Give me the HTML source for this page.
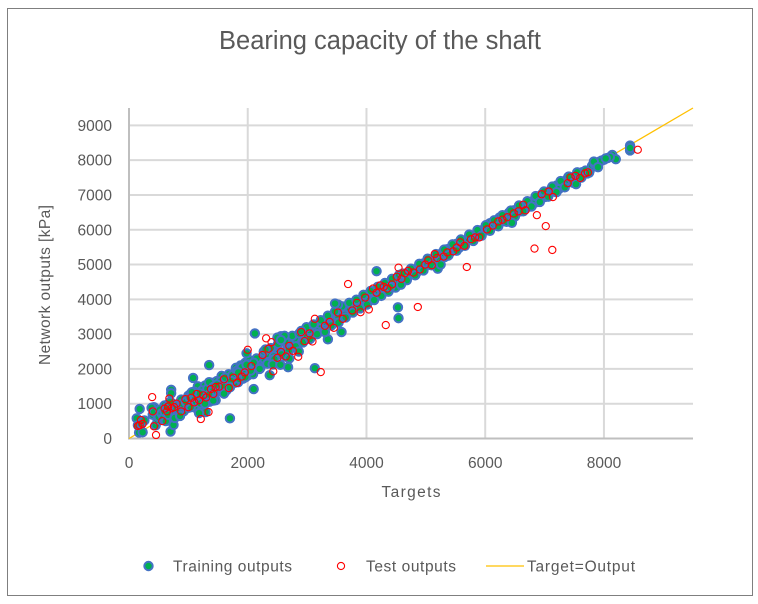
<!DOCTYPE html>
<html>
<head>
<meta charset="utf-8">
<title>Bearing capacity of the shaft</title>
<style>
html,body{margin:0;padding:0;background:#fff;width:758px;height:604px;overflow:hidden}
svg{display:block}
text{font-family:"Liberation Sans",sans-serif;fill:#595959}
</style>
</head>
<body>
<svg id="chart" xmlns="http://www.w3.org/2000/svg" width="758" height="604" viewBox="0 0 758 604">
<rect x="7.5" y="8.5" width="745" height="587" fill="#fff" stroke="#7f7f7f" stroke-width="1"/>
<text x="219" y="49" font-size="25.5" textLength="322" lengthAdjust="spacing">Bearing capacity of the shaft</text>
<text x="381.5" y="497" font-size="15.5" textLength="59" lengthAdjust="spacing">Targets</text>
<text transform="translate(50,365) rotate(-90)" font-size="15.5" textLength="160" lengthAdjust="spacing">Network outputs [kPa]</text>
<g id="grid"></g>
<g id="ticks"></g>
<g id="marks"></g>
<g>
<circle cx="148.5" cy="566" r="4.2" fill="#00b050" stroke="#4472c4" stroke-width="2"/>
<text x="173" y="571.5" font-size="15.5" textLength="119" lengthAdjust="spacing">Training outputs</text>
<circle cx="341" cy="566" r="3.6" fill="#fff" stroke="#ff0000" stroke-width="1.1"/>
<text x="366" y="571.5" font-size="15.5" textLength="90" lengthAdjust="spacing">Test outputs</text>
<line x1="486" y1="566" x2="524" y2="566" stroke="#ffc000" stroke-width="1.3"/>
<text x="527" y="571.5" font-size="15.5" textLength="108" lengthAdjust="spacing">Target=Output</text>
</g>
</svg>
<script>
var xTicks = [0, 2000, 4000, 6000, 8000];
var yTicks = [0, 1000, 2000, 3000, 4000, 5000, 6000, 7000, 8000, 9000];
var refLineX = [0, 9500];
var refLineY = [0, 9500];
var trainX = [
2000,2120,2240,2360,2480,2600,2720,2840,2960,3080,3200,3320,3440,3560,3680,3800,3920,4040,4160,4280,4400,4520,4640,4760,4880,5000,5120,5240,5360,5480,5600,5720,5840,5960,6080,6200,6320,6440,6560,6680,6800,6920,7040,7160,7280,7400,7520,7640,7760,7860,7960,8060,8140,8200,
2040,2160,2280,2400,2520,2640,2760,2880,3000,3120,3240,3360,3480,3600,3720,3840,3960,4080,4200,4320,4440,4560,4680,4800,4920,5040,5160,5280,5400,5520,5640,5760,5880,6000,6120,6240,6360,6480,6600,6720,6840,6960,7080,7200,7320,7440,7560,7680,7800,7900,8000,8100,
2080,2200,2320,2440,2560,2680,2800,2920,3040,3160,3280,3400,3520,3640,3760,3880,4000,4120,4240,4360,4480,4600,4720,4840,4960,5080,5200,5320,5440,5560,5680,5800,5920,6040,6160,6280,6400,6520,6640,6760,6880,7000,7120,7240,7360,7480,7600,7720,7840,7930,8030,
420,470,520,560,600,640,680,720,760,800,840,880,920,960,1000,1040,1080,1120,1160,1200,1240,1280,1320,1360,1400,1440,1480,1520,1560,1600,1640,1680,1720,1760,1800,1840,1880,1920,1960,2000,
2030,2090,2150,2210,2270,2330,2390,2450,2510,2570,2630,2690,2750,2810,2870,2930,2990,3050,3110,3170,3230,3290,3350,3410,3470,3530,3590,3650,3710,3770,3830,3890,3950,4010,4070,4130,4190,4250,4310,4370,4430,4490,4550,
4610,4680,4750,4820,4890,4960,5030,5100,5170,5240,5310,5380,5450,5520,5590,5660,5730,5800,5870,5940,6010,6080,6150,6220,6290,6360,6430,6500,6570,6640,6710,6780,6850,6920,6990,7060,7130,7200,7270,7340,7410,7480,7550,7620,7690,7750,7830,7900,
130,150,170,180,200,230,260,380,400,420,450,480,500,520,550,580,600,620,640,660,690,700,710,750,780,800,820,850,880,900,
1000,1060,1040,1080,1100,1130,1160,1200,1230,1260,1290,1320,1350,1350,1380,1420,1460,1500,1540,1580,1620,1660,1700,1740,1780,1820,1860,1900,1940,1980,2010,2050,2100,2120,
960,1020,1110,1190,1280,1400,1480,1600,1720,1840,1960,2080,
2370,2680,2500,2620,2560,3350,3520,3580,3130,4170,4530,4540,8440,8440,8440,1350,1700,2100,710,1060,1980,2200,2860,3470,
2650,2700,2420,2550,4400,4580,5200,5250,6450,7530,770,860,1180,1420,1600,2300,2900,3300
];
var trainY = [
2100,2060,2310,2290,2600,2480,2790,2720,3020,3000,3290,3250,3560,3480,3740,3760,4010,3980,4220,4300,4470,4480,4680,4720,4950,5040,5110,5240,5440,5500,5620,5760,5800,5950,6190,6180,6390,6420,6620,6610,6830,6960,7050,7180,7300,7520,7330,7660,7700,7880,7990,8060,8150,8030,
2040,2230,2200,2490,2450,2750,2620,2910,2950,3150,3180,3420,3380,3640,3680,3890,3900,4100,4150,4380,4380,4590,4600,4850,4880,5130,5080,5350,5330,5600,5560,5840,5820,6060,6110,6350,6300,6560,6530,6750,6780,7030,7030,7270,7260,7510,7480,7640,7840,7940,8010,8090,
2170,2090,2430,2360,2940,2560,2880,2780,3120,3080,3360,3300,3520,3550,3820,3810,4060,4040,4310,4290,4530,4520,4770,4760,5030,4990,5270,5220,5520,5480,5690,5730,5980,5990,6250,6240,6490,6470,6680,6670,6950,6940,7200,7170,7420,7390,7600,7620,7900,7960,8050,
900,650,800,560,950,700,860,1020,640,940,830,1120,780,950,880,1290,1020,880,1500,1190,950,1520,1270,1060,1600,1250,1650,1380,1800,1500,1380,1850,1540,1640,2030,1620,2100,1720,2180,1810,
2250,1850,2300,2020,2500,2150,2600,2280,2720,2420,2800,2520,2950,2650,3020,2760,3200,2860,3280,3000,3400,3120,3530,3250,3650,3330,3800,3480,3900,3620,3990,3740,4130,3850,4240,3980,4360,4100,4470,4220,4590,4340,4700,
4740,4550,4880,4690,5020,4830,5170,4980,5300,5110,5430,5260,5580,5400,5720,5540,5860,5680,5990,5830,6130,5970,6270,6100,6420,6230,6550,6380,6700,6530,6820,6670,6970,6800,7100,6950,7240,7080,7400,7220,7530,7350,7650,7500,7700,7640,7960,7800,
580,380,170,850,430,180,520,880,680,760,380,540,620,830,720,600,770,500,900,680,1050,200,1400,390,720,850,680,760,950,1000,
1230,1120,900,1740,1350,1050,1280,1010,1380,1250,760,1430,1620,2110,1150,1480,1100,1420,1640,1330,1750,1500,580,1820,1600,1950,1710,2050,1850,2450,2130,1950,1420,3020,
1050,1180,1200,1300,1000,1350,1550,1480,1650,1900,1760,2150,
1820,2050,2900,2950,2830,2850,3850,3060,2020,4810,3770,3460,8420,8280,8350,1260,1470,2180,1300,1330,2120,2000,2500,3880,
2350,2300,2130,2120,4350,4420,4880,5000,6200,7310,590,650,730,1090,1290,2560,3090,3060
];
var testX = [
180,200,230,150,390,420,455,400,560,600,640,660,680,720,760,800,
880,950,1000,1050,1100,1140,1180,1210,1250,1300,1340,1380,1420,1460,1520,1600,1680,1760,1820,1900,1950,2000,2060,
2250,2310,2350,2400,2430,2500,2560,2640,2700,2760,2850,2900,2960,3040,3090,3130,3230,3300,3380,3450,3520,3600,3690,3760,3840,3900,3980,4040,4110,4170,4230,4290,4325,4350,4430,4510,4540,4590,4650,4700,4790,4865,4900,4990,5040,5100,5150,5190,5300,5360,5460,5520,5580,5650,5690,5760,5830,5900,6030,6130,6220,6290,6370,6480,6560,6640,6680,6830,6870,6950,7020,7070,7130,7140,7390,7440,7520,7600,7680,7730,8570
];
var testY = [
380,530,420,360,1190,350,100,780,500,860,780,920,1150,870,900,1000,
780,1130,900,1170,1040,1280,1100,560,1240,1180,760,1420,1280,1480,1490,1700,1450,1750,1600,1780,1900,2550,2080,
2400,2880,2580,2770,1930,2320,2490,2360,2660,2520,2350,3060,2800,3020,2790,3440,1910,3240,3350,3180,3620,3440,4440,3680,3900,3630,4050,3710,4310,4190,4400,4360,3260,4310,4430,4650,4910,4590,4750,4820,4770,3780,4860,5000,5120,4980,5300,5190,5230,5350,5380,5490,5640,5540,4930,5730,5780,5780,6010,6120,6240,6290,6360,6470,6530,6720,6560,5460,6420,7020,6105,7100,5420,6940,7340,7500,7550,7490,7620,7650,8300
];

var svgNS = 'http://www.w3.org/2000/svg';
var plotLeft = 129, plotRight = 693, plotBottom = 438.5, plotTop = 108;
var xMax = 9500, yMax = 9500;
function xScale(v) { return plotLeft + v / xMax * (plotRight - plotLeft); }
function yScale(v) { return plotBottom - v / yMax * (plotBottom - plotTop); }
function make(tag, attrs) {
  var el = document.createElementNS(svgNS, tag);
  for (var k in attrs) { el.setAttribute(k, attrs[k]); }
  return el;
}
var grid = document.getElementById('grid');
var ticks = document.getElementById('ticks');
var marks = document.getElementById('marks');

yTicks.forEach(function (t) {
  if (t !== 0) {
    var gl = make('line', {x1: plotLeft, x2: plotRight, y1: yScale(t), y2: yScale(t), stroke: '#d9d9d9', 'stroke-width': 2});
    
    
    grid.appendChild(gl);
  }
  var lb = make('text', {x: 112, y: yScale(t) + 5.5, 'font-size': 15.5, 'text-anchor': 'end'});
  lb.textContent = t;
  
  
  ticks.appendChild(lb);
});
xTicks.forEach(function (t) {
  if (t !== 0) {
    var gl = make('line', {x1: xScale(t), x2: xScale(t), y1: plotTop, y2: plotBottom, stroke: '#d9d9d9', 'stroke-width': 2});
    
    
    grid.appendChild(gl);
  }
  var lb = make('text', {x: xScale(t), y: 468, 'font-size': 15.5, 'text-anchor': 'middle'});
  lb.textContent = t;
  
  
  ticks.appendChild(lb);
});
var yAxis = make('line', {x1: plotLeft, x2: plotLeft, y1: plotTop, y2: plotBottom + 1, stroke: '#bfbfbf', 'stroke-width': 2});


grid.appendChild(yAxis);
var xAxis = make('line', {x1: plotLeft, x2: plotRight, y1: plotBottom, y2: plotBottom, stroke: '#bfbfbf', 'stroke-width': 2});


grid.appendChild(xAxis);

trainX.forEach(function (x, i) {
  var c = make('circle', {cx: xScale(x), cy: yScale(trainY[i]), r: 4.2, fill: '#00b050', stroke: '#4472c4', 'stroke-width': 2});
  
  
  marks.appendChild(c);
});
var refLine = make('line', {x1: xScale(refLineX[0]), y1: yScale(refLineY[0]), x2: xScale(refLineX[1]), y2: yScale(refLineY[1]), stroke: '#ffc000', 'stroke-width': 1.3});


marks.insertBefore(refLine, marks.firstChild);
testX.forEach(function (x, i) {
  var c = make('circle', {cx: xScale(x), cy: yScale(testY[i]), r: 3.6, fill: 'none', stroke: '#ff0000', 'stroke-width': 1.1});
  
  
  marks.appendChild(c);
});
</script>
</body>
</html>
